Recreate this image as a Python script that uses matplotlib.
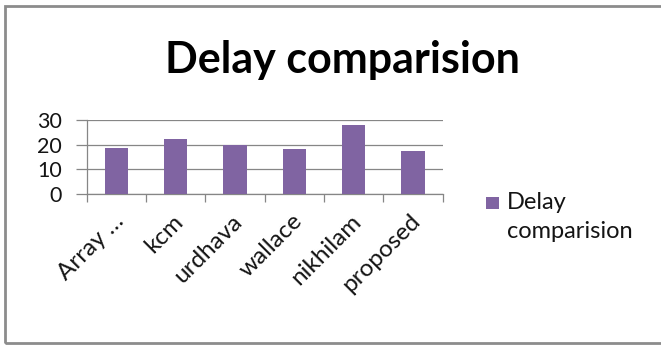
import matplotlib
matplotlib.use("Agg")
import matplotlib.pyplot as plt
from matplotlib.patches import Rectangle

# ── Data ──────────────────────────────────────────────────────────────
methods = ["Array …", "kcm", "urdhava", "wallace", "nikhilam", "proposed"]
delay = [18.6, 22.3, 20.0, 18.1, 28.0, 17.6]
series_name = "Delay comparision"

plt.rcParams["font.family"] = ["Lato", "DejaVu Sans"]

BAR = "#8064A2"
GRID = "#868686"
INK = "#141414"

fig = plt.figure(figsize=(6.61, 3.45), dpi=100)
ax = fig.add_axes([0.1312, 0.4368, 0.5385, 0.2162])

x = range(len(methods))
ax.bar(x, delay, width=0.39, color=BAR, zorder=3, label=series_name)

ax.set_xlim(-0.5, len(methods) - 0.5)
ax.set_ylim(0, 30)
ax.set_yticks([0, 10, 20, 30])
ax.yaxis.grid(True, color=GRID, linewidth=0.9, zorder=0)

# category boundaries carry the tick marks, labels sit at centres
ax.set_xticks([i - 0.5 for i in range(len(methods) + 1)])
ax.set_xticklabels([])
ax.set_xticks([i + 0.07 for i in x], minor=True)
ax.set_xticklabels(methods, minor=True, rotation=45, ha="right",
                   va="center", rotation_mode="anchor", fontsize=17.5,
                   color=INK)
ax.tick_params(axis="x", which="major", length=6, color=GRID, width=0.9)
ax.tick_params(axis="x", which="minor", length=0, pad=17)
ax.tick_params(axis="y", length=8, color=GRID, width=0.9, labelsize=15.5,
               labelcolor=INK, pad=10)

for side in ("top", "right"):
    ax.spines[side].set_visible(False)
for side in ("left", "bottom"):
    ax.spines[side].set_color(GRID)
    ax.spines[side].set_linewidth(0.9)

fig.text(0.518, 1 - 73 / 345, series_name, ha="center", va="baseline",
         fontsize=31, fontweight="bold", color="black")

# legend entry
fig.patches.append(Rectangle((486 / 661, 1 - 209 / 345), 13 / 661, 12 / 345,
                             transform=fig.transFigure, facecolor=BAR,
                             edgecolor="none"))
fig.text(507 / 661, 1 - 209 / 345, "Delay", ha="left", va="baseline",
         fontsize=17, color=INK)
fig.text(507 / 661, 1 - 238 / 345, "comparision", ha="left", va="baseline",
         fontsize=17, color=INK)

# chart area border
fig.patches.append(Rectangle((5 / 661, 2 / 345), 700 / 661, 337 / 345,
                             transform=fig.transFigure, facecolor="none",
                             edgecolor="#8c8c8c", linewidth=2))

fig.savefig("out.png", dpi=100)
